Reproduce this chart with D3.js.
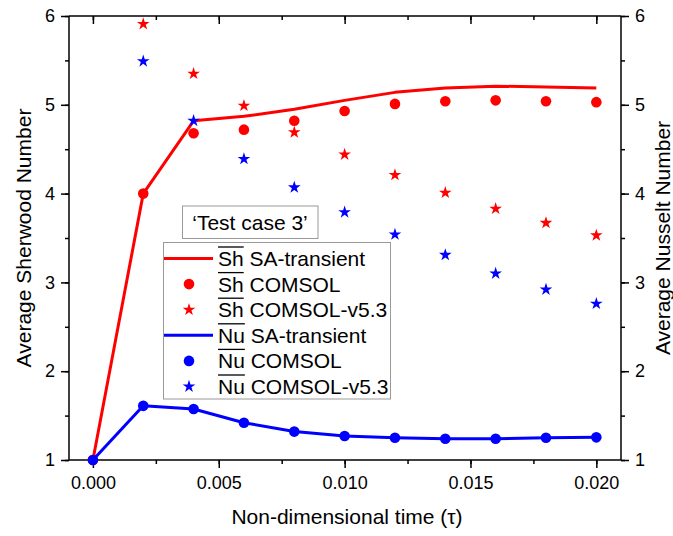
<!DOCTYPE html>
<html><head><meta charset="utf-8">
<script src="https://cdn.jsdelivr.net/npm/d3@7"></script>
<style>body{margin:0;background:#fff;} text{font-family:"Liberation Sans",Arial,sans-serif;}</style>
</head><body>
<svg id="c" width="673" height="536"></svg>
<script>
const times = [0, 0.002, 0.004, 0.006, 0.008, 0.010, 0.012, 0.014, 0.016, 0.018, 0.020];
const shSA = [1, 4.0, 4.82, 4.87, 4.95, 5.05, 5.14, 5.19, 5.21, 5.20, 5.19];
const shCOMSOL = [1, 4.0, 4.68, 4.72, 4.82, 4.93, 5.01, 5.04, 5.05, 5.04, 5.03];
const starTimes = [0.002, 0.004, 0.006, 0.008, 0.010, 0.012, 0.014, 0.016, 0.018, 0.020];
const shV53 = [5.91, 5.35, 4.99, 4.69, 4.44, 4.21, 4.01, 3.83, 3.67, 3.53];
const nuSA = [1, 1.61, 1.575, 1.42, 1.32, 1.27, 1.25, 1.24, 1.24, 1.25, 1.255];
const nuCOMSOL = [1, 1.61, 1.575, 1.42, 1.32, 1.27, 1.25, 1.24, 1.24, 1.25, 1.255];
const nuV53 = [5.49, 4.82, 4.39, 4.07, 3.79, 3.54, 3.31, 3.10, 2.92, 2.76];
const xTicks = [0, 0.005, 0.010, 0.015, 0.020];
const yTicks = [1, 2, 3, 4, 5, 6];
const legendLabels = [["Sh", " SA-transient"], ["Sh", " COMSOL"], ["Sh", " COMSOL-v5.3"], ["Nu", " SA-transient"], ["Nu", " COMSOL"], ["Nu", " COMSOL-v5.3"]];

const RED = "#ff0000", BLUE = "#0000ff";
const svg = d3.select("#c");
const L = 69, R = 621, T = 16, B = 460;
const x = d3.scaleLinear().domain([-0.00095, 0.02098]).range([L, R]);
const y = d3.scaleLinear().domain([1, 6]).range([B, T]);
const y2 = d3.scaleLinear().domain([1, 6]).range([B, T]);

const minorX = d3.range(0, 0.0201, 0.0025);
const minorY = d3.range(1, 6.01, 0.5);

function styleAxis(g) {
  g.select(".domain").attr("stroke", "#000").attr("stroke-width", 1.5);
  g.selectAll(".tick line").attr("stroke", "#000").attr("stroke-width", 1.5);
  g.selectAll(".tick text").attr("font-size", 18).attr("fill", "#000")
    .attr("font-family", '"Liberation Sans",Arial,sans-serif');
}
// minor ticks
function minor(axis, tv, pos) {
  const g = svg.append("g").attr("transform", pos).call(axis.tickValues(tv).tickSize(4).tickFormat("").tickSizeOuter(0));
  g.select(".domain").remove();
  g.selectAll(".tick line").attr("stroke", "#000").attr("stroke-width", 1.5);
}
minor(d3.axisBottom(x), minorX, `translate(0,${B})`);
minor(d3.axisTop(x).tickSizeInner(-4), minorX, `translate(0,${T})`);
minor(d3.axisLeft(y), minorY, `translate(${L},0)`);
minor(d3.axisRight(y2), minorY, `translate(${R},0)`);
svg.selectAll("g").filter(function(){return this.getAttribute("transform")===`translate(0,${T})`;})
  .selectAll(".tick line").attr("y2", 4);

const gx = svg.append("g").attr("transform", `translate(0,${B})`)
  .call(d3.axisBottom(x).tickValues(xTicks).tickFormat(d3.format(".3f")).tickSize(8).tickSizeOuter(0).tickPadding(8));
styleAxis(gx);
const gxt = svg.append("g").attr("transform", `translate(0,${T})`)
  .call(d3.axisTop(x).tickValues(xTicks).tickFormat("").tickSize(-8).tickSizeOuter(0));
styleAxis(gxt);
const gy = svg.append("g").attr("transform", `translate(${L},0)`)
  .call(d3.axisLeft(y).tickValues(yTicks).tickFormat(d3.format("d")).tickSize(8).tickSizeOuter(0).tickPadding(6));
styleAxis(gy);
const gy2 = svg.append("g").attr("transform", `translate(${R},0)`)
  .call(d3.axisRight(y2).tickValues(yTicks).tickFormat(d3.format("d")).tickSize(8).tickSizeOuter(0).tickPadding(6));
styleAxis(gy2);
// extend domains to full box
gx.select(".domain").attr("d", `M${L},0H${R}`);
gxt.select(".domain").attr("d", `M${L},0H${R}`);
gy.select(".domain").attr("d", `M0,${T}V${B}`);
gy2.select(".domain").attr("d", `M0,${T}V${B}`);

// axis titles
svg.append("text").attr("x", (L + R) / 2 + 2).attr("y", 524).attr("text-anchor", "middle")
  .attr("font-size", 21).text("Non-dimensional time (\u03C4)");
svg.append("text").attr("transform", `translate(31,${(T + B) / 2}) rotate(-90)`).attr("text-anchor", "middle")
  .attr("font-size", 21).text("Average Sherwood Number");
svg.append("text").attr("transform", `translate(670,${(T + B) / 2}) rotate(-90)`).attr("text-anchor", "middle")
  .attr("font-size", 21).text("Average Nusselt Number");

const line = d3.line().x((d, i) => x(times[i])).y(d => y(d));
const star = d3.symbol().type(d3.symbolStar).size(50);

function drawSeries(lineVals, circVals, starVals, color, yScale) {
  svg.append("path").attr("d", line(lineVals)).attr("fill", "none").attr("stroke", color)
    .attr("stroke-width", 3).attr("stroke-linejoin", "round");
  svg.append("g").selectAll("circle").data(circVals).join("circle")
    .attr("cx", (d, i) => x(times[i])).attr("cy", d => yScale(d)).attr("r", 5.3).attr("fill", color);
  svg.append("g").selectAll("path").data(starVals).join("path")
    .attr("d", star).attr("transform", (d, i) => `translate(${x(starTimes[i])},${yScale(d)})`).attr("fill", color);
}
drawSeries(shSA, shCOMSOL, shV53, RED, y);
drawSeries(nuSA, nuCOMSOL, nuV53, BLUE, y2);

// Test case box
svg.append("rect").attr("x", 182.5).attr("y", 206).attr("width", 135.5).attr("height", 32.5)
  .attr("fill", "#fff").attr("stroke", "#999").attr("stroke-width", 1);
svg.append("text").attr("x", 250).attr("y", 230).attr("text-anchor", "middle").attr("font-size", 21)
  .text("\u2018Test case 3\u2019");

// Legend
svg.append("rect").attr("x", 163.5).attr("y", 242.5).attr("width", 227).attr("height", 156.5)
  .attr("fill", "#fff").attr("stroke", "#999").attr("stroke-width", 1);
const rowY = i => 258.5 + i * 25.6;
legendLabels.forEach((lab, i) => {
  const color = i < 3 ? RED : BLUE;
  const cy = rowY(i);
  const kind = i % 3;
  if (kind === 0) {
    svg.append("line").attr("x1", 164).attr("x2", 213).attr("y1", cy).attr("y2", cy)
      .attr("stroke", color).attr("stroke-width", 3);
  } else if (kind === 1) {
    svg.append("circle").attr("cx", 189).attr("cy", cy).attr("r", 5.3).attr("fill", color);
  } else {
    svg.append("path").attr("d", star).attr("transform", `translate(189,${cy})`).attr("fill", color);
  }
  const t1 = svg.append("text").attr("x", 218).attr("y", cy + 7.5).attr("font-size", 21).text(lab[0]);
  const w = t1.node().getComputedTextLength();
  svg.append("line").attr("x1", 218).attr("x2", 218 + w).attr("y1", cy - 11.5).attr("y2", cy - 11.5)
    .attr("stroke", "#000").attr("stroke-width", 1.3);
  svg.append("text").attr("x", 218 + w).attr("y", cy + 7.5).attr("font-size", 21).attr("xml:space", "preserve")
    .style("white-space", "pre").text(lab[1]);
});
</script>
</body></html>
